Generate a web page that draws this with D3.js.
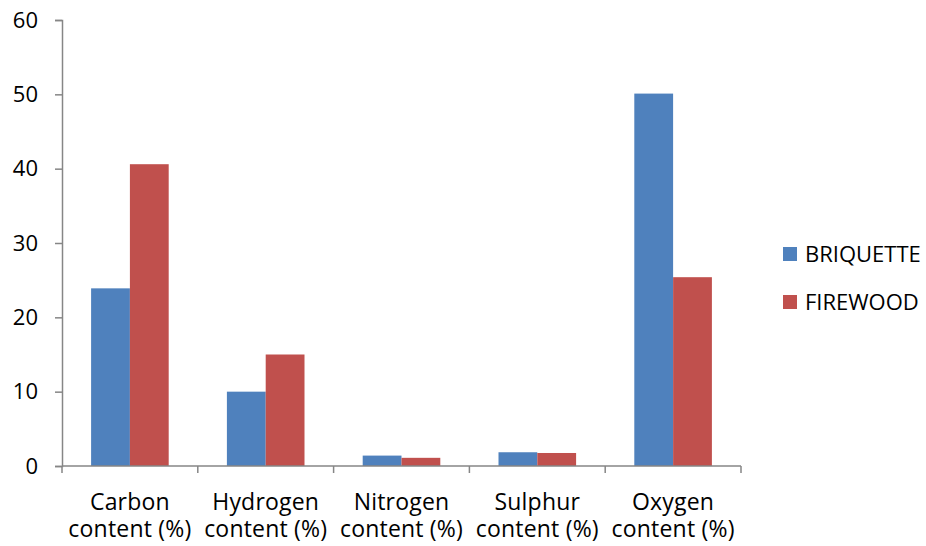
<!DOCTYPE html>
<html>
<head>
<meta charset="utf-8">
<script src="https://cdn.jsdelivr.net/npm/d3@7"></script>
<style>
  body { margin: 0; background: #fff; }
  text { font-family: "Open Sans", "Liberation Sans", sans-serif; fill: #000; }
</style>
</head>
<body>
<div id="chart"></div>
<script>
let categories = ["Carbon content (%)", "Hydrogen content (%)", "Nitrogen content (%)", "Sulphur content (%)", "Oxygen content (%)"];
let series = ["BRIQUETTE", "FIREWOOD"];
let briquette = [23.9, 10.0, 1.4, 1.85, 50.1];
let firewood = [40.6, 15.0, 1.1, 1.75, 25.4];
let yTicks = [0, 10, 20, 30, 40, 50, 60];
let colors = ["#4F81BD", "#C0504D"];

let totalWidth = 926, totalHeight = 546;
let margin = {top: 20, right: 185, bottom: 80, left: 62};
let width = totalWidth - margin.left - margin.right;
let height = totalHeight - margin.top - margin.bottom;

let svg = d3.select("#chart")
    .append("svg")
    .attr("width", totalWidth)
    .attr("height", totalHeight)
    .append("g")
    .attr("transform", "translate(" + margin.left + "," + margin.top + ")");

let x0 = d3.scaleBand().domain(categories).range([0, width]).padding(0);
let x1 = d3.scaleBand().domain(series).range([0, x0.bandwidth()]).paddingInner(0).paddingOuter(0.75);
let yScale = d3.scaleLinear().domain([0, 60]).range([height, 0]);
let colorScale = d3.scaleOrdinal().domain(series).range(colors);

let rows = categories.map((c, i) => ({category: c, values: [
    {key: "BRIQUETTE", value: briquette[i]},
    {key: "FIREWOOD", value: firewood[i]}
]}));

// bars
let groups = svg.selectAll(".group")
    .data(rows)
    .enter()
    .append("g")
    .attr("class", "group")
    .attr("transform", d => `translate(${x0(d.category)},0)`);

groups.selectAll("rect")
    .data(d => d.values)
    .enter()
    .append("rect")
    .attr("x", d => x1(d.key))
    .attr("y", d => yScale(d.value))
    .attr("width", x1.bandwidth())
    .attr("height", d => height - yScale(d.value))
    .attr("fill", d => colorScale(d.key));

// y axis
let yAxis = d3.axisLeft(yScale).tickValues(yTicks).tickSize(7).tickPadding(17);
let yG = svg.append("g").attr("class", "y-axis").call(yAxis);
yG.select(".domain").attr("stroke", "#868686").attr("stroke-width", 1.5);
yG.selectAll(".tick line").attr("stroke", "#868686").attr("stroke-width", 1.5);
yG.selectAll(".tick text").style("font-size", "22px").attr("fill", "#000");

// x axis: ticks sit on the category boundaries
let xG = svg.append("g")
    .attr("class", "x-axis")
    .attr("transform", `translate(0, ${height})`);
xG.append("line")
    .attr("x1", 0).attr("x2", width)
    .attr("stroke", "#868686").attr("stroke-width", 1.5);
let bounds = categories.map(c => x0(c)).concat([width]);
xG.selectAll(".xtick")
    .data(bounds)
    .enter()
    .append("line")
    .attr("x1", d => d).attr("x2", d => d)
    .attr("y1", 0).attr("y2", 7)
    .attr("stroke", "#868686").attr("stroke-width", 1.5);

// two-line category labels
let firstLine = xG.selectAll(".xlabel1")
    .data(categories)
    .enter()
    .append("text")
    .attr("class", "xlabel1")
    .attr("text-anchor", "middle")
    .attr("x", d => x0(d) + x0.bandwidth() / 2)
    .attr("y", 44)
    .style("font-size", "23px")
    .style("letter-spacing", "0.2px")
    .text(d => d.split(" ")[0]);

let secondLine = xG.selectAll(".xlabel2")
    .data(categories)
    .enter()
    .append("text")
    .attr("class", "xlabel2")
    .attr("text-anchor", "middle")
    .attr("x", d => x0(d) + x0.bandwidth() / 2)
    .attr("y", 71)
    .style("font-size", "23px")
    .style("letter-spacing", "0.2px")
    .text(d => d.split(" ").slice(1).join(" "));

// legend
let legend = svg.append("g")
    .attr("class", "color-legend")
    .attr("transform", "translate(" + (width + 42) + "," + 227 + ")");

let legendItems = legend.selectAll(".legend-item")
    .data(series)
    .enter()
    .append("g")
    .attr("class", "legend-item")
    .attr("transform", (d, i) => `translate(0, ${i * 48})`);

legendItems.append("rect")
    .attr("width", 14)
    .attr("height", 14)
    .attr("fill", d => colorScale(d));

legendItems.append("text")
    .attr("x", 22)
    .attr("y", 15)
    .style("font-size", "22px")
    .text(d => d);
</script>
</body>
</html>
